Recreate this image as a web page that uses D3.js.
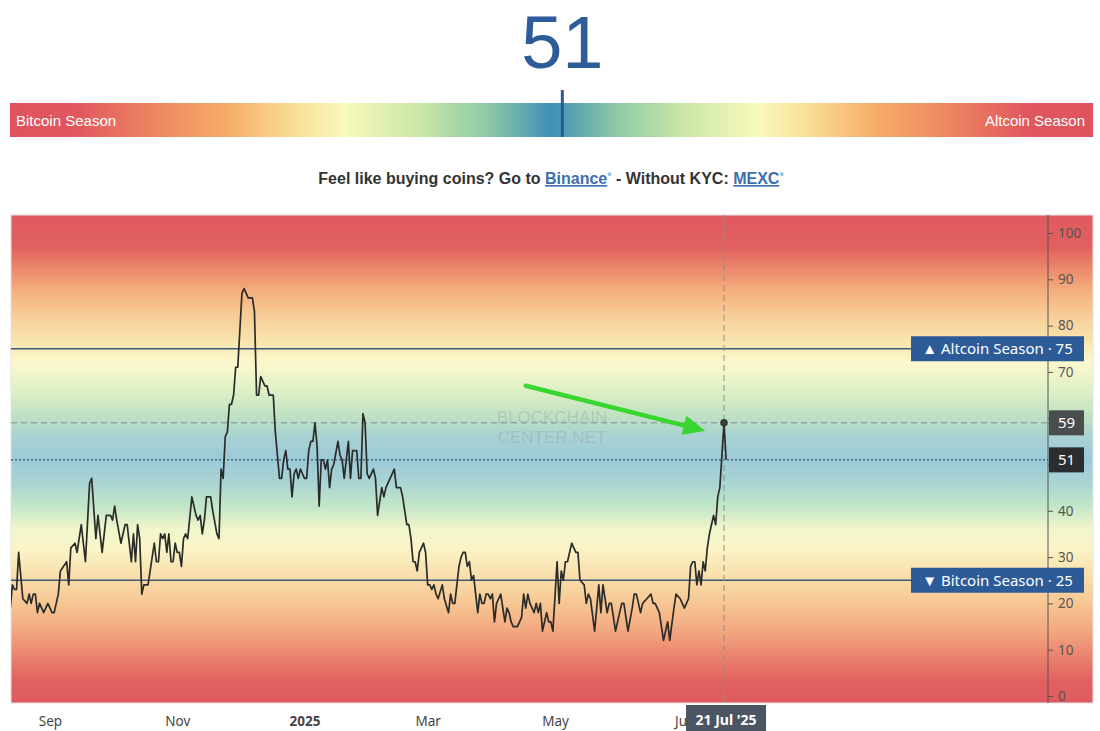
<!DOCTYPE html>
<html><head><meta charset="utf-8">
<script src="https://cdn.jsdelivr.net/npm/d3@7"></script>
<style>
html,body{margin:0;padding:0;background:#fff;}
svg{display:block;}
</style></head><body>
<svg id="c" width="1100" height="731"></svg>
<script>
// ---------- DATA ----------
const currentValue = 51;
const hoverValue = 59;
const hoverDate = "2025-07-21";
const hoverLabel = "21 Jul '25";
const altThreshold = 75;
const btcThreshold = 25;
const dates = [
"2024-08-13","2024-08-14","2024-08-15","2024-08-16","2024-08-17","2024-08-19","2024-08-21","2024-08-22","2024-08-23","2024-08-24","2024-08-25","2024-08-26","2024-08-27","2024-08-29","2024-08-31",
"2024-09-02","2024-09-03","2024-09-05","2024-09-06","2024-09-09","2024-09-10","2024-09-11","2024-09-13","2024-09-14","2024-09-16","2024-09-18","2024-09-20","2024-09-21","2024-09-23","2024-09-24","2024-09-26","2024-09-28","2024-09-30",
"2024-10-01","2024-10-02","2024-10-03","2024-10-05","2024-10-07","2024-10-08","2024-10-10","2024-10-11","2024-10-12","2024-10-13","2024-10-14","2024-10-15","2024-10-16","2024-10-18","2024-10-19","2024-10-21","2024-10-22","2024-10-23","2024-10-24","2024-10-25","2024-10-26","2024-10-27","2024-10-28","2024-10-29","2024-10-30","2024-10-31",
"2024-11-01","2024-11-02","2024-11-03","2024-11-04","2024-11-05","2024-11-06","2024-11-08","2024-11-10","2024-11-11","2024-11-12","2024-11-13","2024-11-14","2024-11-15","2024-11-17","2024-11-18","2024-11-20","2024-11-21","2024-11-22","2024-11-23","2024-11-24","2024-11-25","2024-11-26","2024-11-27","2024-11-28","2024-11-29","2024-11-30",
"2024-12-01","2024-12-02","2024-12-03","2024-12-04","2024-12-05","2024-12-07","2024-12-08","2024-12-09","2024-12-10","2024-12-11","2024-12-13","2024-12-14","2024-12-15","2024-12-17","2024-12-18","2024-12-19","2024-12-20","2024-12-21","2024-12-22","2024-12-23","2024-12-24","2024-12-25","2024-12-26","2024-12-27","2024-12-28","2024-12-29","2024-12-30","2024-12-31",
"2025-01-01","2025-01-02","2025-01-03","2025-01-04","2025-01-05","2025-01-06","2025-01-07","2025-01-08","2025-01-09","2025-01-10","2025-01-11","2025-01-12","2025-01-13","2025-01-14","2025-01-15","2025-01-17","2025-01-18","2025-01-19","2025-01-20","2025-01-22","2025-01-23","2025-01-24","2025-01-26","2025-01-27","2025-01-28","2025-01-29","2025-01-30","2025-01-31",
"2025-02-01","2025-02-03","2025-02-04","2025-02-05","2025-02-07","2025-02-08","2025-02-09","2025-02-11","2025-02-13","2025-02-14","2025-02-16","2025-02-17","2025-02-19","2025-02-20","2025-02-21","2025-02-22","2025-02-23","2025-02-24","2025-02-25","2025-02-27","2025-02-28",
"2025-03-01","2025-03-02","2025-03-03","2025-03-04","2025-03-05","2025-03-06","2025-03-08","2025-03-09","2025-03-11","2025-03-12","2025-03-13","2025-03-14","2025-03-15","2025-03-16","2025-03-17","2025-03-18","2025-03-19","2025-03-20","2025-03-21","2025-03-22","2025-03-23","2025-03-24","2025-03-25","2025-03-26","2025-03-27","2025-03-28","2025-03-29","2025-03-30","2025-03-31",
"2025-04-01","2025-04-02","2025-04-03","2025-04-04","2025-04-05","2025-04-07","2025-04-08","2025-04-09","2025-04-10","2025-04-11","2025-04-13","2025-04-15","2025-04-16","2025-04-17","2025-04-18","2025-04-19","2025-04-21","2025-04-22","2025-04-23","2025-04-24","2025-04-25","2025-04-27","2025-04-28","2025-04-29","2025-04-30",
"2025-05-02","2025-05-03","2025-05-04","2025-05-05","2025-05-06","2025-05-07","2025-05-09","2025-05-11","2025-05-12","2025-05-13","2025-05-15","2025-05-16","2025-05-17","2025-05-18","2025-05-20","2025-05-22","2025-05-23","2025-05-24","2025-05-26","2025-05-27","2025-05-28","2025-05-30",
"2025-06-01","2025-06-02","2025-06-03","2025-06-05","2025-06-07","2025-06-08","2025-06-09","2025-06-11","2025-06-12","2025-06-14","2025-06-16","2025-06-17","2025-06-18","2025-06-20","2025-06-22","2025-06-24","2025-06-25","2025-06-27","2025-06-28","2025-06-30",
"2025-07-02","2025-07-03","2025-07-04","2025-07-05","2025-07-06","2025-07-07","2025-07-08","2025-07-09","2025-07-10","2025-07-11","2025-07-12","2025-07-13","2025-07-14","2025-07-15","2025-07-16","2025-07-17","2025-07-18","2025-07-19","2025-07-20","2025-07-21","2025-07-22"
];
const values = [
19,24,23,23,31,21,20,22,20,22,22,18,20,18,20,
18,18,22,27,29,24,32,33,31,37,29,46,47,34,39,31,39,39,
38,41,38,33,37,37,29,35,29,37,34,22,24,24,27,33,29,29,35,34,35,31,35,29,29,33,
31,31,28,34,35,34,43,39,38,39,35,38,43,43,40,35,34,49,47,56,57,63,63,65,71,71,
79,87,88,87,86,86,83,65,65,69,67,67,65,65,57,52,47,47,51,53,49,49,43,48,49,47,49,48,
47,47,53,55,55,59,54,41,51,51,49,51,45,49,50,55,52,51,47,55,47,53,53,47,47,61,59,48,
47,49,47,39,45,43,45,47,49,45,45,43,37,37,34,29,29,27,31,33,31,
24,24,23,24,22,21,24,21,18,22,20,20,24,28,30,31,31,28,29,25,26,22,18,22,20,20,22,22,21,
22,16,20,21,22,16,19,18,16,15,15,17,22,19,22,20,18,20,18,20,14,18,16,16,14,
29,20,27,25,29,29,33,31,31,25,24,20,22,21,14,24,18,24,18,20,20,14,
18,20,20,14,19,22,22,18,20,21,22,20,20,18,12,16,12,19,22,21,
19,20,21,28,29,29,24,27,24,29,27,32,35,37,39,37,43,45,52,59,51
];
const yTicks = [0,10,20,30,40,50,60,70,80,90,100];
const yTicksHiddenByTags = [50,60];
const xTickDates = ["2024-09-01","2024-11-01","2025-01-01","2025-03-01","2025-05-01","2025-07-01"];
const xTickLabels = ["Sep","Nov","2025","Mar","May","Jul"];
const arrowFrom = ["2025-04-17", 67];
const arrowTo = ["2025-07-12", 57.3];

// ---------- SETUP ----------
const parse = d3.utcParse("%Y-%m-%d");
const svg = d3.select("#c");
const defs = svg.append("defs");

// Gauge
const gx = d3.scaleLinear().domain([0,100]).range([10,1093]);
const gaugeStops = [
  [0,"#df535e"],[0.06,"#e0575e"],[0.14,"#ee8a62"],[0.2,"#f6ad66"],[0.27,"#fae39c"],[0.31,"#f8f9bc"],
  [0.38,"#c9e6a6"],[0.44,"#8fcaa6"],[0.5,"#3f8fb6"],[0.56,"#8fcaa6"],[0.62,"#c9e6a6"],[0.69,"#f8f9bc"],
  [0.73,"#fae39c"],[0.8,"#f6ad66"],[0.86,"#ee8a62"],[0.94,"#e0575e"],[1,"#df535e"]];
const gg = defs.append("linearGradient").attr("id","gaugeGrad").attr("x1","0").attr("x2","1").attr("y1","0").attr("y2","0");
gaugeStops.forEach(s=>gg.append("stop").attr("offset",s[0]).attr("stop-color",s[1]));

svg.append("text").attr("x",gx(currentValue)).attr("y",68).attr("text-anchor","middle")
  .attr("font-family","Liberation Sans, Arial, sans-serif").attr("font-size",74).attr("fill","#2d5c99")
  .text(currentValue);
svg.append("rect").attr("x",gx(0)).attr("y",103).attr("width",gx(100)-gx(0)).attr("height",34).attr("fill","url(#gaugeGrad)");
svg.append("line").attr("x1",gx(currentValue)).attr("x2",gx(currentValue)).attr("y1",90).attr("y2",137)
  .attr("stroke","#2b5a94").attr("stroke-width",3);
svg.append("text").attr("x",16).attr("y",126).attr("fill","#fff").attr("font-family","Liberation Sans, Arial, sans-serif")
  .attr("font-size",15).text("Bitcoin Season");
svg.append("text").attr("x",1085).attr("y",126).attr("text-anchor","end").attr("fill","#fff").attr("font-family","Liberation Sans, Arial, sans-serif")
  .attr("font-size",15).text("Altcoin Season");

// Promo line
const promo = svg.append("text").attr("x",551).attr("y",184).attr("text-anchor","middle")
  .attr("font-family","Liberation Sans, Arial, sans-serif").attr("font-size",16).attr("font-weight","bold").attr("fill","#333");
promo.append("tspan").text("Feel like buying coins? Go to ");
promo.append("tspan").attr("fill","#3d6fad").attr("text-decoration","underline").text("Binance");
promo.append("tspan").attr("fill","#7fb6e0").attr("font-size",11).attr("dy",-4).text("*");
promo.append("tspan").attr("dy",4).text(" - Without KYC: ");
promo.append("tspan").attr("fill","#3d6fad").attr("text-decoration","underline").text("MEXC");
promo.append("tspan").attr("fill","#7fb6e0").attr("font-size",11).attr("dy",-4).text("*");

// ---------- CHART ----------
const plotL = 11, plotR = 1048, plotT = 215, plotB = 703, bgR = 1093;
const x = d3.scaleUtc()
  .domain([new Date(Date.UTC(2024,7,13,8)), new Date(Date.UTC(2025,11,23,6))])
  .range([plotL, plotR]);
const y = d3.scaleLinear().domain([0,100]).range([696,233]);

// background gradient by value
const bgStops = [
  [104,"#df5a5f"],[97,"#e2605f"],[92,"#ec8a6c"],[87,"#f5b27f"],[82,"#f8cd98"],[77,"#f9e3ad"],[72,"#fbf8cc"],
  [66,"#dff0c6"],[61,"#c2e3c3"],[56,"#a8d2d2"],[51,"#9cc9d8"],[46,"#a9d5d3"],[41,"#c3e6c8"],[36,"#f0f6cb"],
  [32,"#fbf5c8"],[26,"#f9dfab"],[20,"#f7c693"],[14,"#f2a77f"],[8,"#ea7f6c"],[3,"#e1605f"],[-2,"#df5a5f"]];
const bg = defs.append("linearGradient").attr("id","bgGrad").attr("gradientUnits","userSpaceOnUse")
  .attr("x1",0).attr("x2",0).attr("y1",plotT).attr("y2",plotB);
bgStops.forEach(s=>bg.append("stop").attr("offset",(y(s[0])-plotT)/(plotB-plotT)).attr("stop-color",s[1]));
svg.append("rect").attr("x",plotL).attr("y",plotT).attr("width",bgR-plotL).attr("height",plotB-plotT)
  .attr("fill","url(#bgGrad)").attr("stroke","#e4e4e4");

defs.append("clipPath").attr("id","clip").append("rect")
  .attr("x",plotL).attr("y",plotT).attr("width",plotR-plotL).attr("height",plotB-plotT);

// watermark
const wm = svg.append("g").attr("font-family","Liberation Sans, Arial, sans-serif").attr("font-size",17)
  .attr("fill","#8a9aa0").attr("fill-opacity",0.35).attr("text-anchor","middle");
wm.append("text").attr("x",552).attr("y",423).text("BLOCKCHAIN");
wm.append("text").attr("x",552).attr("y",443).text("CENTER.NET");

// threshold lines
[altThreshold, btcThreshold].forEach(v=>{
  svg.append("line").attr("x1",plotL).attr("x2",plotR).attr("y1",y(v)).attr("y2",y(v))
    .attr("stroke","#3e5878").attr("stroke-width",1.5);
});
svg.append("line").attr("x1",plotL).attr("x2",plotR).attr("y1",y(hoverValue)).attr("y2",y(hoverValue))
  .attr("stroke","#7f8f90").attr("stroke-width",1).attr("stroke-dasharray","6,4");
svg.append("line").attr("x1",plotL).attr("x2",plotR).attr("y1",y(currentValue)).attr("y2",y(currentValue))
  .attr("stroke","#2a3a40").attr("stroke-width",1).attr("stroke-dasharray","2,2");
svg.append("line").attr("x1",x(parse(hoverDate))).attr("x2",x(parse(hoverDate))).attr("y1",plotT).attr("y2",plotB)
  .attr("stroke","#8a9090").attr("stroke-width",1).attr("stroke-dasharray","6,4");

// data line
const pts = dates.map((d,i)=>({d:parse(d), v:values[i]}));
svg.append("path").datum(pts).attr("clip-path","url(#clip)")
  .attr("d", d3.line().x(p=>x(p.d)).y(p=>y(p.v)))
  .attr("fill","none").attr("stroke","#2a2c2a").attr("stroke-width",1.7).attr("stroke-linejoin","round");
svg.append("circle").attr("cx",x(parse(hoverDate))).attr("cy",y(hoverValue)).attr("r",3.8).attr("fill","#333a38");

// green arrow
const ax1 = x(parse(arrowFrom[0])), ay1 = y(arrowFrom[1]);
const ax2 = x(parse(arrowTo[0])), ay2 = y(arrowTo[1]);
const ang = Math.atan2(ay2-ay1, ax2-ax1);
const hl = 22, hw = 10;
const bx = ax2 - hl*Math.cos(ang), by = ay2 - hl*Math.sin(ang);
svg.append("line").attr("x1",ax1).attr("y1",ay1).attr("x2",bx).attr("y2",by)
  .attr("stroke","#3ad630").attr("stroke-width",4.5).attr("stroke-linecap","round");
svg.append("path").attr("d",`M${ax2},${ay2}L${bx + hw*Math.sin(ang)},${by - hw*Math.cos(ang)}L${bx - hw*Math.sin(ang)},${by + hw*Math.cos(ang)}Z`)
  .attr("fill","#3ad630");

// right axis
const yAxis = d3.axisRight(y).tickValues(yTicks).tickSize(5).tickPadding(5)
  .tickFormat(d=>yTicksHiddenByTags.includes(d)?"":d);
const ya = svg.append("g").attr("transform",`translate(${plotR},0)`).call(yAxis);
ya.select(".domain").attr("d",`M0,${plotT}V${plotB}`).attr("stroke","#555");
ya.selectAll(".tick line").attr("stroke","#555");
ya.selectAll("text").attr("font-family","Noto Sans, Arial, sans-serif").attr("font-size",13.5).attr("fill","#555");

// bottom axis
const xAxis = d3.axisBottom(x).tickValues(xTickDates.map(parse)).tickFormat((d,i)=>xTickLabels[i]).tickSize(0).tickPadding(13);
const xa = svg.append("g").attr("transform",`translate(0,${plotB})`).call(xAxis);
xa.select(".domain").remove();
xa.selectAll("text").attr("font-family","Noto Sans, Arial, sans-serif").attr("font-size",13.5).attr("fill","#444")
  .attr("font-weight",(d,i)=>xTickLabels[i]==="2025"?"bold":"normal");

// tags
function tag(v, txt, fill, x0, x1){
  const g = svg.append("g");
  g.append("rect").attr("x",x0).attr("y",y(v)-12.5).attr("width",x1-x0).attr("height",25).attr("fill",fill);
  g.append("text").attr("x",(x0+x1)/2).attr("y",y(v)+5.5).attr("text-anchor","middle").attr("fill","#fff")
    .attr("font-family","Noto Sans, Arial, sans-serif").attr("font-size",15).text(txt);
}
tag(altThreshold, "\u25B2 Altcoin Season \u00B7 " + altThreshold, "#2c5b98", 911, 1084);
tag(btcThreshold, "\u25BC Bitcoin Season \u00B7 " + btcThreshold, "#2c5b98", 911, 1084);
tag(hoverValue, String(hoverValue), "#4a4d4e", 1049, 1084);
tag(currentValue, String(currentValue), "#2b2d2e", 1049, 1084);

// date tag
const hx = x(parse(hoverDate));
svg.append("rect").attr("x",hx-38).attr("y",plotB+2).attr("width",80).attr("height",28).attr("fill","#4c5563");
svg.append("text").attr("x",hx+2).attr("y",plotB+22).attr("text-anchor","middle").attr("fill","#fff")
  .attr("font-family","Noto Sans, Arial, sans-serif").attr("font-size",14).attr("font-weight","bold").text(hoverLabel);
</script>
</body></html>
